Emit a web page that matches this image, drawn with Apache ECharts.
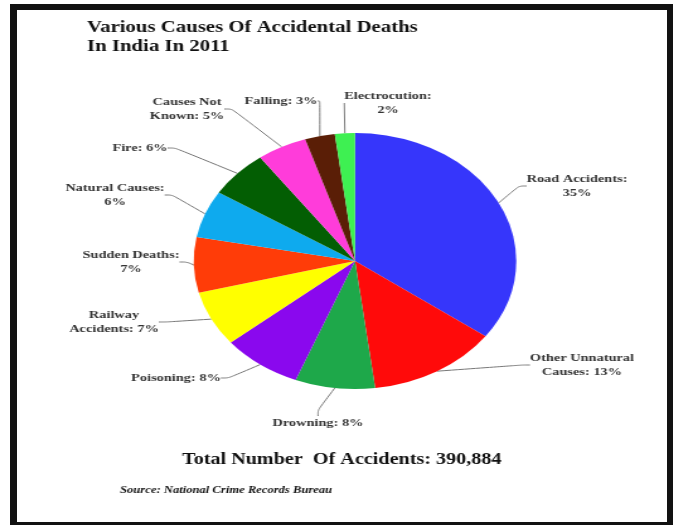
<!DOCTYPE html>
<html>
<head>
<meta charset="utf-8">
<script src="https://cdn.jsdelivr.net/npm/echarts@6/dist/echarts.min.js"></script>
<style>
    html, body { margin: 0; padding: 0; background: #fff; }
    #wrap { position: relative; width: 675px; height: 525px; overflow: hidden; }
    /* the source image is stretched sideways, so the chart is drawn narrow and widened */
    #chart { position: absolute; left: 0; top: 0; width: 536px; height: 525px;
             transform: scaleX(1.26); transform-origin: 0 0; }
    #frame { position: absolute; left: 10px; top: 4px; width: 650px; height: 512px;
             border-style: solid; border-color: #111; border-width: 6px 6px 5px 7px; pointer-events: none; }
</style>
</head>
<body>
<div id="wrap">
    <div id="chart"></div>
    <div id="frame"></div>
</div>
<script>
    // data (percent of accidental deaths)
    var causes = ['Road Accidents', 'Other Unnatural\nCauses', 'Drowning', 'Poisoning',
        'Railway\nAccidents', 'Sudden Deaths', 'Natural Causes', 'Fire',
        'Causes Not\nKnown', 'Falling', 'Electrocution'];
    var shares = [35, 13, 8, 8, 7, 7, 6, 6, 5, 3, 2];
    var valueOnNewLine = [true, false, false, false, false, true, true, false, false, false, true];
    var sliceColors = ['#3636fb', '#ff0a0a', '#1ea84a', '#8a08ee', '#ffff00', '#ff3c08',
        '#0eaaee', '#035e03', '#ff3cda', '#5a1e06', '#3ef052'];

    var SX = 1.26; // horizontal stretch of the picture
    // label centres, in picture pixels
    var labelAt = [[577, 186], [582, 365], [318, 423], [176, 378], [114, 322], [131, 262],
        [115, 195], [140, 148], [187, 109], [281, 101], [388, 103]];

    var serif = '"Liberation Serif", "DejaVu Serif", serif';
    var chart = echarts.init(document.getElementById('chart'));

    var option = {
        backgroundColor: 'transparent',
        animation: false,
        title: [
            {
                text: 'Various Causes Of Accidental Deaths\nIn India In 2011',
                left: 87 / SX,
                top: 18,
                padding: 0,
                textStyle: { fontFamily: serif, fontSize: 16.5, fontWeight: 'bold', color: '#111', lineHeight: 19 }
            },
            {
                text: 'Total Number  Of Accidents: 390,884',
                left: 182 / SX,
                top: 452,
                padding: 0,
                textStyle: { fontFamily: serif, fontSize: 16, fontWeight: 'bold', color: '#111', lineHeight: 16 }
            },
            {
                text: 'Source: National Crime Records Bureau',
                left: 120 / SX,
                top: 484,
                padding: 0,
                textStyle: { fontFamily: serif, fontSize: 10, fontWeight: 'bold', fontStyle: 'italic', color: '#111', lineHeight: 12 }
            }
        ],
        series: [
            {
                type: 'pie',
                center: [355 / SX, 261],
                radius: 128,
                startAngle: 90,
                clockwise: true,
                silent: true,
                itemStyle: { borderWidth: 0 },
                label: {
                    show: true,
                    position: 'outside',
                    fontFamily: serif,
                    fontSize: 11.4,
                    fontWeight: 'bold',
                    color: '#333',
                    lineHeight: 14,
                    align: 'center',
                    formatter: function (p) {
                        var sep = valueOnNewLine[p.dataIndex] ? ':\n' : ': ';
                        return p.name + sep + p.value + '%';
                    }
                },
                labelLine: {
                    show: true,
                    length: 10,
                    length2: 6,
                    smooth: 0.3,
                    lineStyle: { color: '#777', width: 1 }
                },
                labelLayout: function (params) {
                    var pos = labelAt[params.dataIndex];
                    return {
                        x: pos[0] / SX,
                        y: pos[1],
                        align: 'center',
                        verticalAlign: 'middle'
                    };
                },
                data: causes.map(function (name, i) {
                    return { name: name, value: shares[i], itemStyle: { color: sliceColors[i] } };
                })
            }
        ]
    };

    chart.setOption(option);
</script>
</body>
</html>
